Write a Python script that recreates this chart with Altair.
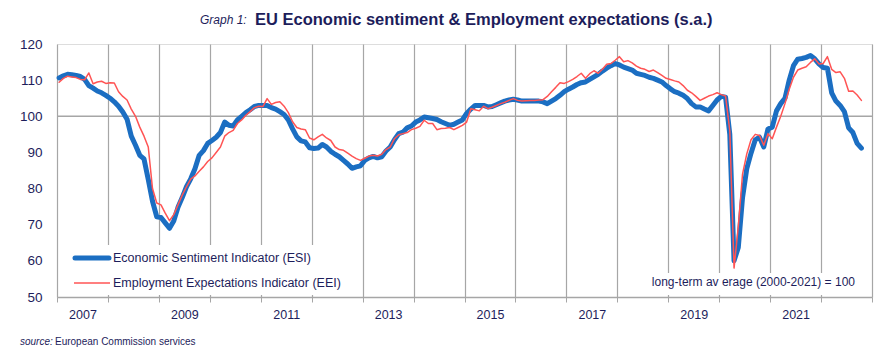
import altair as alt
import pandas as pd

# ---- data (monthly, Jan 2007 - Oct 2022) ----
esi_name = "Economic Sentiment Indicator (ESI)"
eei_name = "Employment Expectations Indicator (EEI)"

esi = [
    110.6, 111.2, 111.6, 111.5, 111.3, 111.0, 110.2, 108.5, 107.8, 107.0, 106.5, 105.8,  # 2007
    105.0, 104.0, 102.8, 101.2, 99.2, 94.5, 92.0, 89.2, 88.2, 82.5, 76.5, 72.2,          # 2008
    72.0, 70.5, 69.0, 71.0, 74.8, 77.5, 80.5, 82.7, 85.5, 89.2, 90.5, 92.5,              # 2009
    93.3, 94.2, 95.5, 98.4, 97.5, 97.3, 99.0, 100.0, 101.0, 101.8, 102.7, 103.0,         # 2010
    103.0, 103.0, 102.4, 102.0, 101.3, 100.5, 99.0, 96.5, 94.3, 93.2, 92.9, 91.3,        # 2011
    91.1, 91.2, 92.2, 91.5, 90.3, 89.5, 88.8, 87.8, 86.8, 85.6, 86.0, 86.3,              # 2012
    87.8, 88.5, 88.9, 88.5, 88.8, 90.4, 91.5, 93.5, 95.2, 95.6, 96.8, 97.3,              # 2013
    98.4, 99.0, 99.8, 99.6, 99.4, 99.1, 98.5, 98.0, 97.5, 97.8, 98.4, 99.0,              # 2014
    100.8, 102.0, 103.0, 103.0, 103.0, 102.6, 102.7, 103.2, 103.7, 104.2, 104.5, 104.7,  # 2015
    104.5, 104.2, 104.2, 104.2, 104.2, 104.2, 104.0, 103.5, 104.2, 104.9, 105.8, 106.8,  # 2016
    107.5, 108.1, 108.8, 109.3, 109.5, 110.2, 110.9, 111.6, 112.5, 113.3, 114.0, 114.6,  # 2017
    114.2, 113.6, 113.2, 112.8, 111.9, 111.6, 111.3, 110.8, 110.5, 110.0, 109.5, 108.5,  # 2018
    107.6, 106.8, 106.4, 105.8, 104.9, 103.5, 102.6, 102.6, 102.0, 101.5, 103.0, 104.5,  # 2019
    105.5, 105.3, 95.0, 60.0, 63.7, 77.5, 85.5, 89.8, 93.5, 94.2, 91.5, 96.5,            # 2020
    97.0, 101.5, 103.5, 105.0, 110.0, 114.0, 115.8, 116.0, 116.3, 116.8, 115.9, 114.5,   # 2021
    113.5, 113.3, 106.5, 104.2, 103.0, 101.3, 96.8, 95.5, 92.5, 91.2,                    # 2022
]

eei = [
    109.4, 110.5, 111.1, 110.9, 110.7, 110.2, 110.1, 112.0, 109.0, 109.5, 109.7, 109.1,  # 2007
    109.3, 109.2, 106.8, 105.5, 104.5, 102.0, 100.0, 97.0, 94.5, 91.5, 80.0, 76.0,       # 2008
    75.5, 73.2, 71.1, 72.8, 75.5, 78.2, 80.5, 82.6, 83.5, 84.8, 86.0, 87.5,              # 2009
    88.5, 90.0, 91.5, 94.5, 95.5, 96.1, 98.0, 99.0, 100.3, 101.3, 102.4, 102.8,          # 2010
    102.7, 104.9, 103.3, 103.8, 104.0, 102.8, 101.0, 98.5, 96.9, 96.5, 96.3, 94.0,       # 2011
    93.5, 94.3, 95.0, 94.0, 93.3, 91.5, 90.8, 90.6, 89.8, 89.0, 88.3, 87.8,              # 2012
    88.4, 89.0, 89.2, 89.0, 89.5, 90.8, 91.5, 93.8, 94.9, 95.2, 95.5, 96.3,              # 2013
    96.7, 97.2, 98.9, 98.0, 98.0, 96.3, 96.6, 96.7, 96.9, 96.3, 96.9, 97.5,              # 2014
    98.4, 102.1, 101.8, 101.5, 102.8, 102.1, 102.5, 103.0, 103.5, 103.9, 104.4, 104.9,   # 2015
    104.4, 104.2, 104.3, 104.4, 104.4, 104.5, 104.6, 105.5, 106.8, 108.0, 109.3, 109.1,  # 2016
    109.6, 110.2, 111.0, 111.9, 110.5, 111.8, 112.6, 111.9, 113.0, 114.4, 114.6, 115.5,  # 2017
    116.5, 115.1, 115.4, 114.8, 113.9, 113.3, 113.0, 112.4, 112.8, 112.1, 111.3, 110.5,  # 2018
    110.2, 109.8, 109.5, 108.5, 107.2, 106.5, 105.5, 104.4, 105.0, 105.6, 106.0, 106.5,  # 2019
    106.0, 105.6, 96.0, 58.0, 69.5, 84.0, 89.6, 93.5, 95.0, 94.7, 92.0, 95.2,            # 2020
    93.8, 97.0, 100.0, 103.5, 107.5, 110.8, 112.8, 113.3, 113.7, 114.9, 115.9, 114.5,    # 2021
    114.6, 116.5, 113.0, 112.1, 112.3, 110.5, 106.9, 107.0, 105.9, 104.4,                # 2022
]

start_year = 2007
year_ticks = list(range(2007, 2024))
y_ticks = [50, 60, 70, 80, 90, 100, 110, 120]
long_term_avg = [100]

# decimal year at the middle of each month
t = [start_year + (i + 0.5) / 12 for i in range(len(esi))]
df = pd.DataFrame({
    "t": t * 2,
    "value": esi + eei,
    "series": [esi_name] * len(esi) + [eei_name] * len(eei),
})

NAVY = "#1d1d5b"
GRID = "#a6a6a6"
BLUE = "#1b6ec2"
RED = "#ff5454"
FONT = "Liberation Sans, Arial, sans-serif"

xs = alt.X("t:Q",
           scale=alt.Scale(domain=[2007, 2023], nice=False, zero=False),
           axis=alt.Axis(values=year_ticks, grid=True, gridColor=GRID, gridWidth=1.2,
                         domainColor=GRID, domainWidth=1.5, tickColor=GRID, tickSize=5,
                         labelExpr="(datum.value % 2 == 1 && datum.value < 2023) ? '' + datum.value : ''",
                         labelOffset=25.5, labelFlush=False, labelOverlap=False,
                         labelPadding=6, labelFont=FONT, labelFontSize=12.5, labelColor=NAVY,
                         title=None))
y_axis = alt.Axis(values=y_ticks, grid=False, domain=False, ticks=False,
                  labelOverlap=False, labelFlush=False,
                  labelPadding=15, labelFont=FONT, labelFontSize=13.5, labelColor=NAVY,
                  title=None)
y_scale = alt.Scale(domain=[50, 120], nice=False, zero=False)
ys = alt.Y("value:Q", scale=y_scale, axis=y_axis)

ref = alt.Chart(pd.DataFrame({"value": long_term_avg})).mark_rule(
    color=GRID, strokeWidth=1.5).encode(y=ys)

lines = alt.Chart(df).mark_line(strokeJoin="round", strokeCap="round").encode(
    x=xs, y=ys,
    color=alt.Color("series:N",
                    scale=alt.Scale(domain=[esi_name, eei_name], range=[BLUE, RED]),
                    legend=None),
    strokeWidth=alt.StrokeWidth("series:N",
                                scale=alt.Scale(domain=[esi_name, eei_name], range=[5, 1.5]),
                                legend=None),
    order=alt.Order("t:Q"),
)

# legend (drawn by hand, inside the plot, with a white background)
leg_box = alt.Chart(pd.DataFrame({"k": [0]})).mark_rect(color="white").encode(
    x=alt.value(8), x2=alt.value(282), y=alt.value(201), y2=alt.value(251))
leg_esi_line = alt.Chart(pd.DataFrame({"k": [0]})).mark_rule(color=BLUE, strokeWidth=5, strokeCap="round").encode(
    x=alt.value(18), x2=alt.value(52), y=alt.value(214))
leg_eei_line = alt.Chart(pd.DataFrame({"k": [0]})).mark_rule(color=RED, strokeWidth=1.5).encode(
    x=alt.value(17), x2=alt.value(53), y=alt.value(239))
leg_esi_txt = alt.Chart(pd.DataFrame({"txt": [esi_name]})).mark_text(
    align="left", baseline="middle", font=FONT, fontSize=12.5, color=NAVY).encode(
    text="txt:N", x=alt.value(56), y=alt.value(214))
leg_eei_txt = alt.Chart(pd.DataFrame({"txt": [eei_name]})).mark_text(
    align="left", baseline="middle", font=FONT, fontSize=12.5, color=NAVY).encode(
    text="txt:N", x=alt.value(56), y=alt.value(239))

note_box = alt.Chart(pd.DataFrame({"k": [0]})).mark_rect(color="white").encode(
    x=alt.value(592), x2=alt.value(804), y=alt.value(229), y2=alt.value(251))
note = alt.Chart(pd.DataFrame({"txt": ["long-term av erage (2000-2021) = 100"]})).mark_text(
    align="right", baseline="middle", font=FONT, fontSize=12, color=NAVY).encode(
    text="txt:N", x=alt.value(798), y=alt.value(238))

title_a = alt.Chart(pd.DataFrame({"txt": ["Graph 1:"]})).mark_text(
    align="left", baseline="middle", font=FONT, fontSize=12, fontStyle="italic", color=NAVY).encode(
    text="txt:N", x=alt.value(143), y=alt.value(-24))
title_b = alt.Chart(pd.DataFrame({"txt": ["EU Economic sentiment & Employment expectations (s.a.)"]})).mark_text(
    align="left", baseline="middle", font=FONT, fontSize=16.5, fontWeight="bold", color=NAVY).encode(
    text="txt:N", x=alt.value(198), y=alt.value(-24))

src_a = alt.Chart(pd.DataFrame({"txt": ["source:"]})).mark_text(
    align="left", baseline="middle", font=FONT, fontSize=10, fontStyle="italic", color=NAVY).encode(
    text="txt:N", x=alt.value(-37), y=alt.value(298))
src_b = alt.Chart(pd.DataFrame({"txt": ["European Commission services"]})).mark_text(
    align="left", baseline="middle", font=FONT, fontSize=10, color=NAVY).encode(
    text="txt:N", x=alt.value(-2), y=alt.value(298))

chart = alt.layer(ref, lines, leg_box, leg_esi_line, leg_eei_line, leg_esi_txt, leg_eei_txt,
                  note_box, note, title_a, title_b, src_a, src_b).properties(
    width=815, height=253,
    autosize=alt.AutoSizeParams(type="none"),
    padding={"left": 57, "top": 44, "right": 18, "bottom": 58},
).configure_view(stroke=None).configure(background="white")

chart.save("out.html", embed_options={"renderer": "svg", "actions": False})
